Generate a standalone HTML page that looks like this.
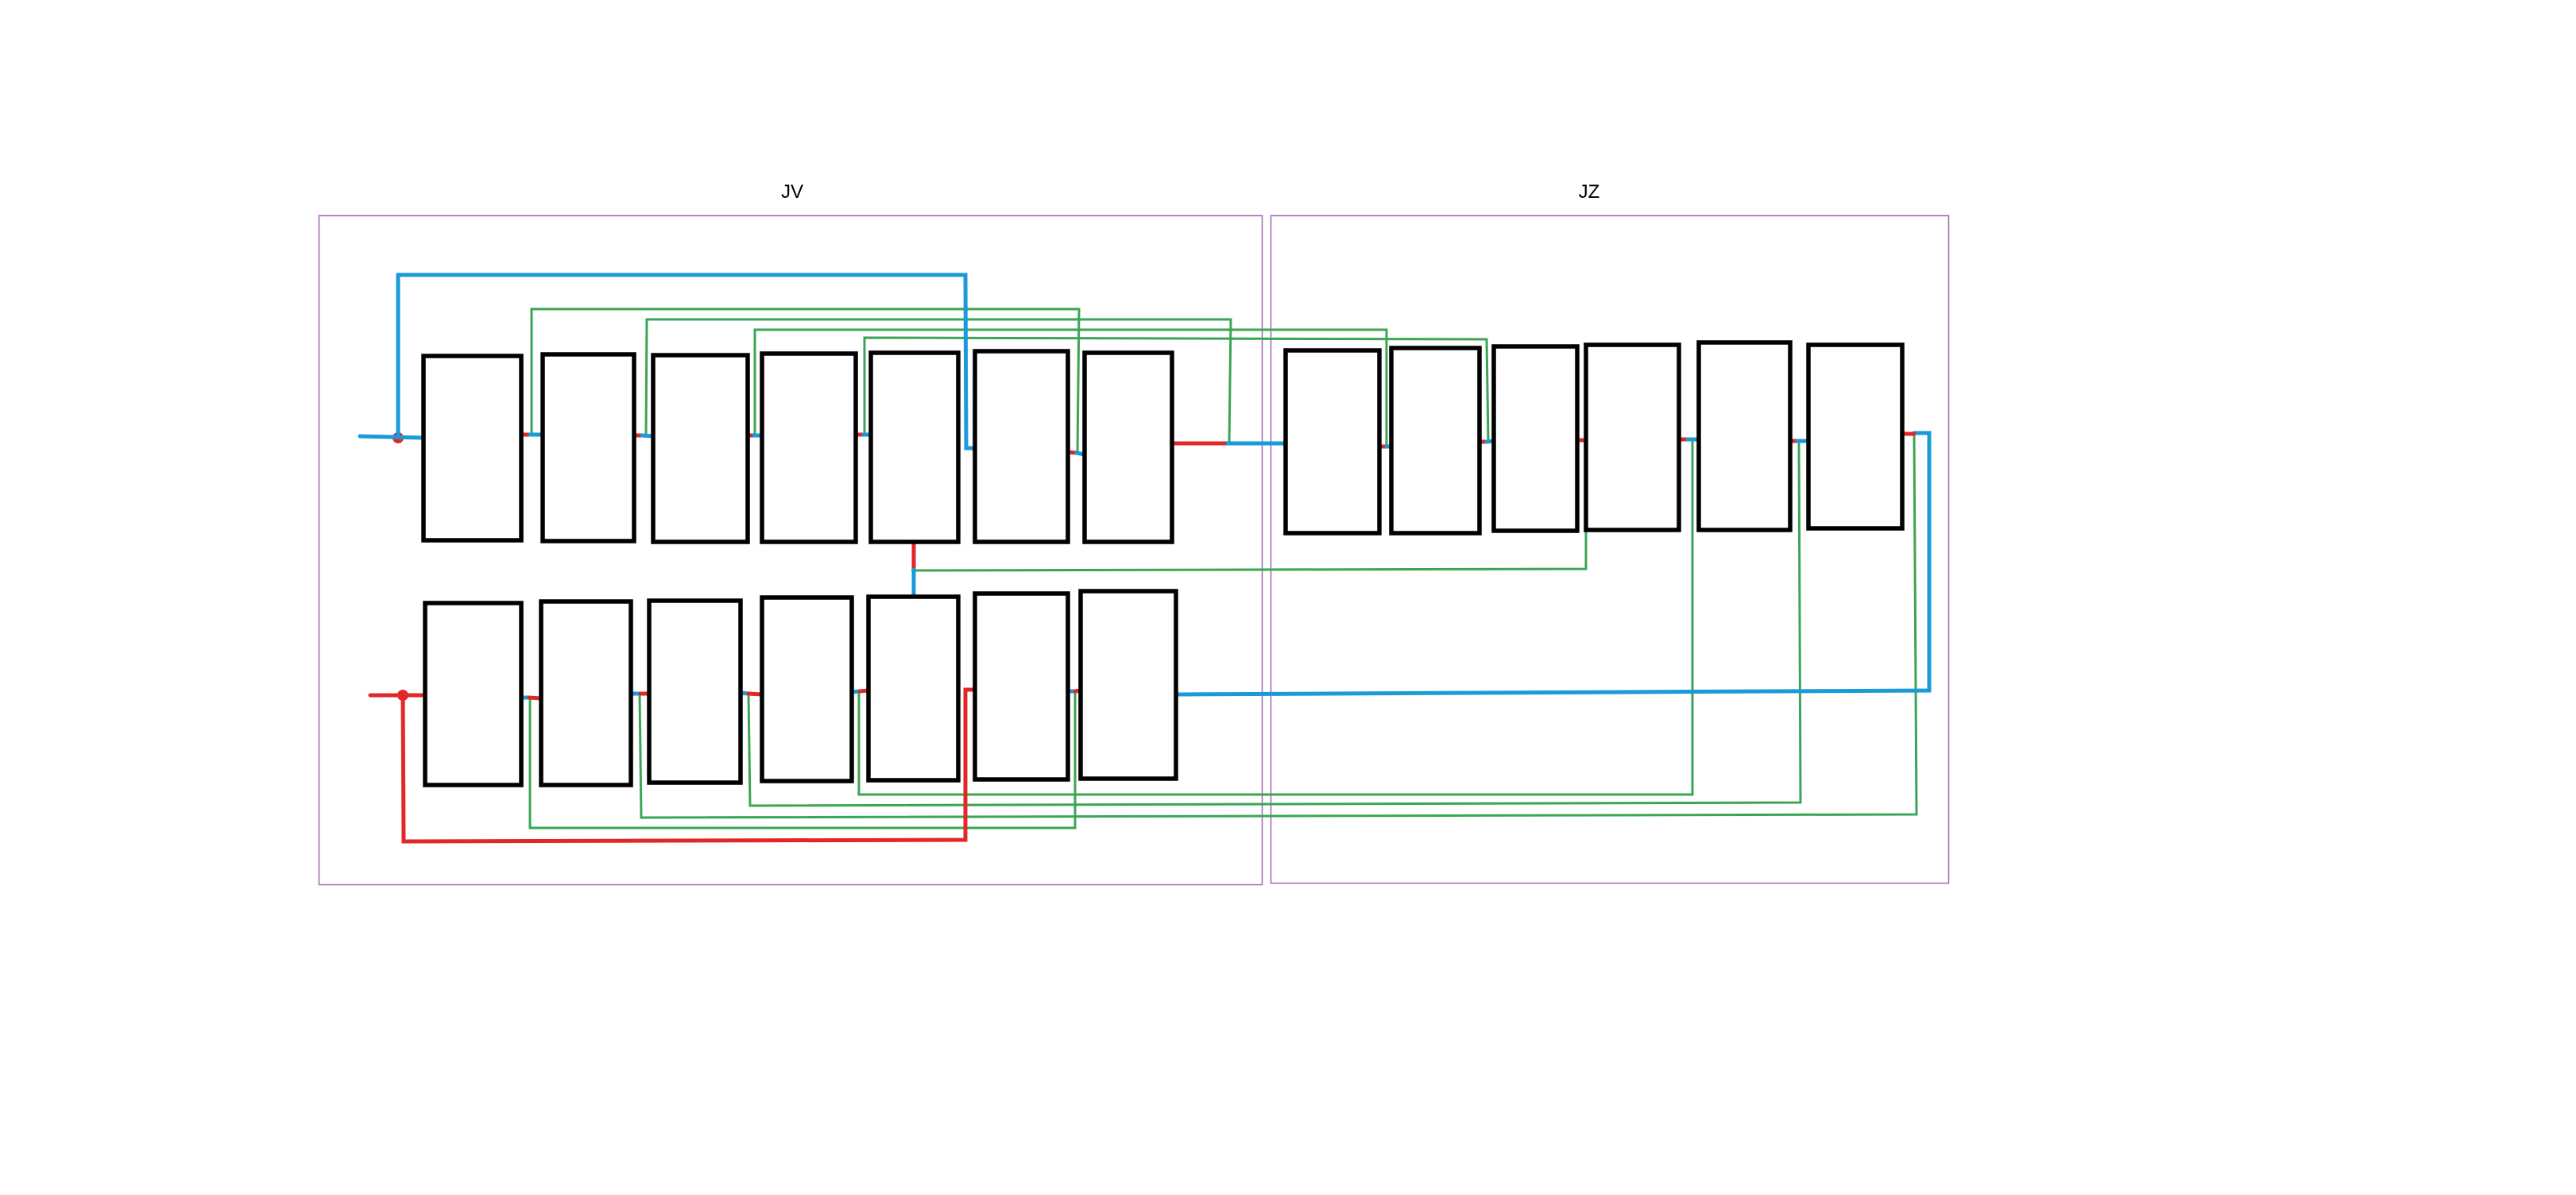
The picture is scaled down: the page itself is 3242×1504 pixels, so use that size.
<!DOCTYPE html>
<html><head><meta charset="utf-8"><style>
html,body{margin:0;padding:0;background:#fff;}
svg{display:block;}
text{font-family:"Liberation Sans",sans-serif;}
</style></head><body>
<svg width="3242" height="1504" viewBox="0 0 3242 1504" xmlns="http://www.w3.org/2000/svg">
<rect width="3242" height="1504" fill="#fff"/>
<rect x="401.5" y="271.5" width="1187" height="842" fill="none" stroke="#a064b4" stroke-width="1.5"/>
<rect x="1599.5" y="271.5" width="853" height="840" fill="none" stroke="#a064b4" stroke-width="1.5"/>
<text x="997" y="249" font-size="24" text-anchor="middle" fill="#000">JV</text>
<text x="2000" y="249" font-size="24" text-anchor="middle" fill="#000">JZ</text>

<g fill="none" stroke="#3aa655" stroke-width="3">
<polyline points="669,547 669,389 1358,389 1356,571"/>
<polyline points="813,548 814,402 1549,402 1547,558"/>
<polyline points="950,548 950,415 1745,415 1745,562"/>
<polyline points="1088,547 1088,425 1871,427 1873,556"/>
<polyline points="1147,718 1996,716 1996,555"/>
<polyline points="667,878 667,1042 1353,1042 1353,870"/>
<polyline points="805,873 807,1029 2412,1025 2409,547"/>
<polyline points="942,873 944,1014 2266,1010 2264,556"/>
<polyline points="1081,870 1081,1000 2130,1000 2130,553"/>
</g>

<g fill="none" stroke="#e02828" stroke-width="5" stroke-linecap="round">
<polyline points="466,875 535,875"/>
<polyline points="507,875 508,1059 1215,1057 1215,868 1227,868"/>
<line x1="1476" y1="558" x2="1545" y2="558"/>
<line x1="1150" y1="683" x2="1150" y2="717"/>
</g>
<circle cx="507" cy="875" r="7" fill="#e02828"/>
<circle cx="501" cy="551" r="7" fill="#e02828"/>

<g fill="none" stroke="#1a9ad8" stroke-width="5" stroke-linecap="round">
<polyline points="453,549 533,551"/>
<polyline points="501,549 501,346 1215,346 1216,564 1226,564"/>
<line x1="1545" y1="558" x2="1619" y2="558"/>
<line x1="1150" y1="717" x2="1150" y2="753"/>
<polyline points="1480,874 2428,869 2428,545 2409,545"/>
</g>

<g stroke-width="5" stroke-linecap="round" fill="none">
<line x1="656" y1="547" x2="667" y2="547" stroke="#e02828"/><line x1="667" y1="547" x2="683" y2="547" stroke="#1a9ad8"/>
<line x1="798" y1="548" x2="808" y2="548" stroke="#e02828"/><line x1="808" y1="548" x2="822" y2="549" stroke="#1a9ad8"/>
<line x1="941" y1="548" x2="949" y2="548" stroke="#e02828"/><line x1="949" y1="548" x2="959" y2="548" stroke="#1a9ad8"/>
<line x1="1077" y1="547" x2="1087" y2="547" stroke="#e02828"/><line x1="1087" y1="547" x2="1096" y2="547" stroke="#1a9ad8"/>
<line x1="1344" y1="569" x2="1355" y2="570" stroke="#e02828"/><line x1="1355" y1="570" x2="1365" y2="572" stroke="#1a9ad8"/>

<line x1="656" y1="878" x2="666" y2="878" stroke="#1a9ad8"/><line x1="666" y1="878" x2="681" y2="879" stroke="#e02828"/>
<line x1="794" y1="873" x2="806" y2="873" stroke="#1a9ad8"/><line x1="806" y1="873" x2="817" y2="873" stroke="#e02828"/>
<line x1="932" y1="872" x2="942" y2="873" stroke="#1a9ad8"/><line x1="942" y1="873" x2="959" y2="874" stroke="#e02828"/>
<line x1="1072" y1="871" x2="1082" y2="870" stroke="#1a9ad8"/><line x1="1082" y1="870" x2="1093" y2="869" stroke="#e02828"/>
<line x1="1344" y1="870" x2="1353" y2="870" stroke="#1a9ad8"/><line x1="1353" y1="870" x2="1360" y2="869" stroke="#e02828"/>

<line x1="1736" y1="562" x2="1745" y2="562" stroke="#e02828"/><line x1="1745" y1="562" x2="1753" y2="562" stroke="#1a9ad8"/>
<line x1="1862" y1="556" x2="1871" y2="556" stroke="#e02828"/><line x1="1871" y1="556" x2="1880" y2="555" stroke="#1a9ad8"/>
<line x1="1985" y1="554" x2="1995" y2="554" stroke="#e02828"/><line x1="1995" y1="554" x2="2003" y2="555" stroke="#1a9ad8"/>
<line x1="2113" y1="553" x2="2124" y2="553" stroke="#e02828"/><line x1="2124" y1="553" x2="2138" y2="553" stroke="#1a9ad8"/>
<line x1="2253" y1="555" x2="2262" y2="555" stroke="#e02828"/><line x1="2262" y1="555" x2="2276" y2="555" stroke="#1a9ad8"/>
<line x1="2394" y1="546" x2="2409" y2="546" stroke="#e02828"/>
</g>

<g fill="#fff" stroke="#000" stroke-width="5.5">
<rect x="533" y="448" width="123" height="232"/>
<rect x="683" y="446" width="115" height="235"/>
<rect x="822" y="447" width="119" height="235"/>
<rect x="959" y="445" width="118" height="237"/>
<rect x="1096" y="444" width="110" height="238"/>
<rect x="1227" y="442" width="117" height="240"/>
<rect x="1365" y="444" width="110" height="238"/>

<rect x="535" y="759" width="121" height="229"/>
<rect x="681" y="757" width="113" height="231"/>
<rect x="817" y="756" width="115" height="229"/>
<rect x="959" y="752" width="113" height="231"/>
<rect x="1093" y="751" width="113" height="231"/>
<rect x="1227" y="747" width="117" height="234"/>
<rect x="1360" y="744" width="120" height="236"/>

<rect x="1618" y="441" width="118" height="230"/>
<rect x="1751" y="438" width="111" height="233"/>
<rect x="1880" y="436" width="105" height="232"/>
<rect x="1996" y="434" width="117" height="233"/>
<rect x="2138" y="431" width="115" height="236"/>
<rect x="2276" y="434" width="118" height="231"/>
</g>
</svg>
</body></html>
